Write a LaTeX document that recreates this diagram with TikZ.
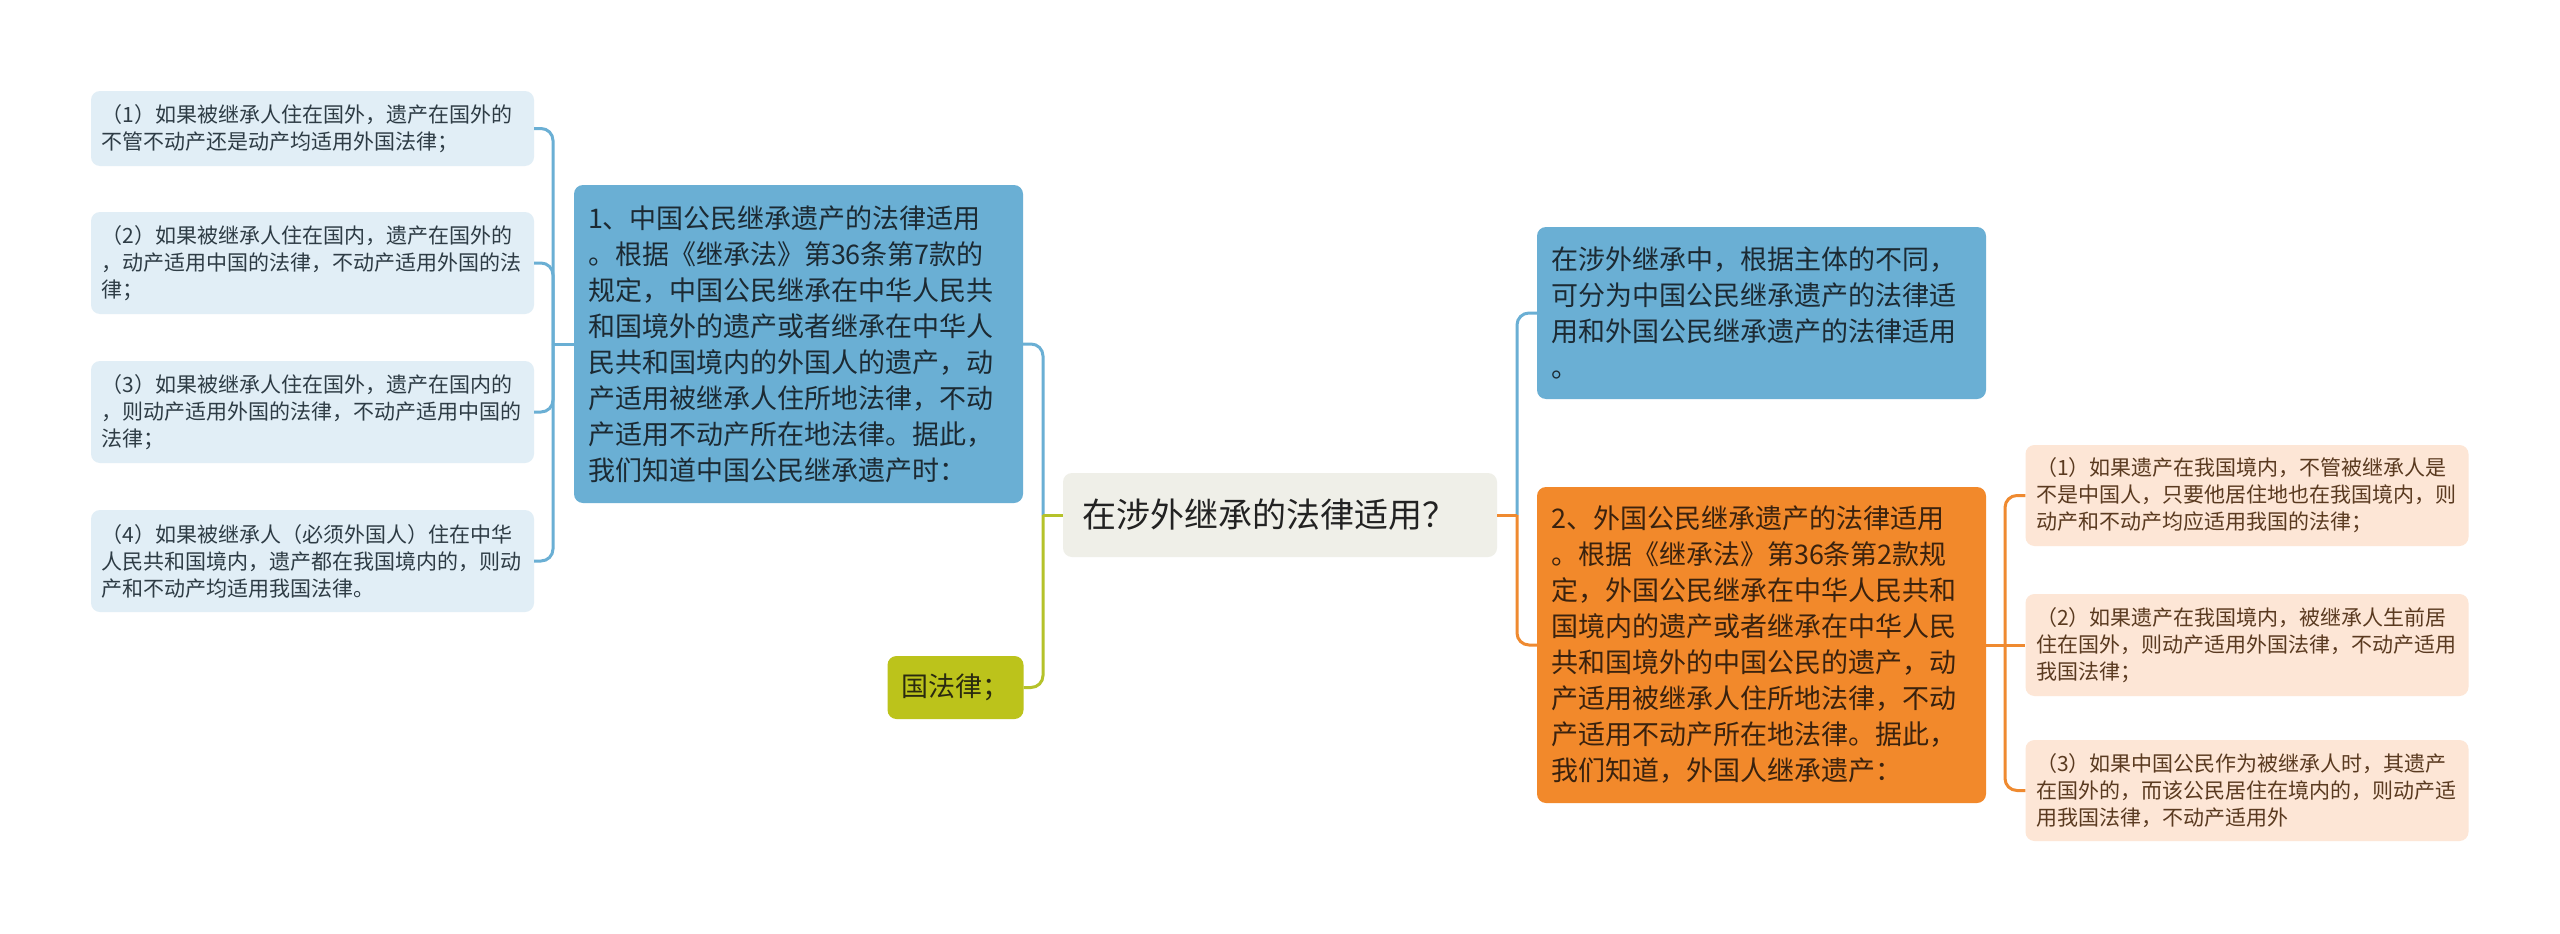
\documentclass[tikz,border=0pt]{standalone}
\usepackage{fontspec}
\newfontfamily\cjk{Noto Sans CJK SC}
\definecolor{lbfill}{HTML}{E1EEF6}
\definecolor{lbtext}{HTML}{2E3C45}
\definecolor{bluefill}{HTML}{6AAFD4}
\definecolor{bluetext}{HTML}{1C2A33}
\definecolor{orangefill}{HTML}{F2892B}
\definecolor{orangetext}{HTML}{3A220E}
\definecolor{greenfill}{HTML}{BCC31B}
\definecolor{greentext}{HTML}{2A2A10}
\definecolor{centerfill}{HTML}{EFEFE8}
\definecolor{centertext}{HTML}{222222}
\definecolor{peachfill}{HTML}{FDE6D6}
\definecolor{peachtext}{HTML}{5A3A20}
\definecolor{bluecon}{HTML}{6AAFD4}
\definecolor{greencon}{HTML}{B5C22A}
\definecolor{orangecon}{HTML}{EF8A30}
\tikzset{
  box/.style={rounded corners=9pt, inner ysep=0pt, align=left, anchor=center},
  smallbox/.style={box, font=\cjk\fontsize{21}{27}\selectfont, text width=422pt, inner xsep=10.5pt, minimum width=443pt},
  leftleaf/.style={smallbox, fill=lbfill, text=lbtext},
  rightleaf/.style={smallbox, fill=peachfill, text=peachtext},
  bigbox/.style={box, font=\cjk\fontsize{27}{36}\selectfont, text width=421pt, inner xsep=14pt, minimum width=449pt},
  bluebox/.style={bigbox, fill=bluefill, text=bluetext},
  orangebox/.style={bigbox, fill=orangefill, text=orangetext},
  con/.style={line width=3pt, rounded corners=12pt},
}
\begin{document}
\begin{tikzpicture}[x=1pt,y=-1pt]
\useasboundingbox[fill=white] (0,0) rectangle (2560,934);

% left leaves
\node[leftleaf, minimum height=75pt] (L1) at (312.5,128.5) {（1）如果被继承人住在国外，遗产在国外的\\不管不动产还是动产均适用外国法律；};
\node[leftleaf, minimum height=102pt] (L2) at (312.5,263) {（2）如果被继承人住在国内，遗产在国外的\\，动产适用中国的法律，不动产适用外国的法\\律；};
\node[leftleaf, minimum height=102pt] (L3) at (312.5,412) {（3）如果被继承人住在国外，遗产在国内的\\，则动产适用外国的法律，不动产适用中国的\\法律；};
\node[leftleaf, minimum height=102pt] (L4) at (312.5,561) {（4）如果被继承人（必须外国人）住在中华\\人民共和国境内，遗产都在我国境内的，则动\\产和不动产均适用我国法律。};

% left main
\node[bluebox, minimum height=318pt] (A1) at (798.5,344) {1、中国公民继承遗产的法律适用\\。根据《继承法》第36条第7款的\\规定，中国公民继承在中华人民共\\和国境外的遗产或者继承在中华人\\民共和国境内的外国人的遗产，动\\产适用被继承人住所地法律，不动\\产适用不动产所在地法律。据此，\\我们知道中国公民继承遗产时：};

\node[box, fill=greenfill, text=greentext, font=\cjk\fontsize{27}{36}\selectfont, inner xsep=14pt, minimum width=135pt, minimum height=63pt] (G) at (955.5,687.5) {国法律；};

% center
\node[box, fill=centerfill, text=centertext, font=\cjk\fontsize{34}{40}\selectfont, text width=396pt, inner xsep=19pt, minimum width=434pt, minimum height=84pt] (C) at (1280,515) {在涉外继承的法律适用？};

% right main
\node[bluebox, minimum height=172pt] (R1) at (1761.5,313) {在涉外继承中，根据主体的不同，\\可分为中国公民继承遗产的法律适\\用和外国公民继承遗产的法律适用\\。};
\node[orangebox, minimum height=316pt] (R2) at (1761.5,645) {2、外国公民继承遗产的法律适用\\。根据《继承法》第36条第2款规\\定，外国公民继承在中华人民共和\\国境内的遗产或者继承在中华人民\\共和国境外的中国公民的遗产，动\\产适用被继承人住所地法律，不动\\产适用不动产所在地法律。据此，\\我们知道，外国人继承遗产：};

% right leaves
\node[rightleaf, minimum height=101pt, minimum width=442pt] (RR1) at (2247,495.5) {（1）如果遗产在我国境内，不管被继承人是\\不是中国人，只要他居住地也在我国境内，则\\动产和不动产均应适用我国的法律；};
\node[rightleaf, minimum height=102pt, minimum width=442pt] (RR2) at (2247,645) {（2）如果遗产在我国境内，被继承人生前居\\住在国外，则动产适用外国法律，不动产适用\\我国法律；};
\node[rightleaf, minimum height=101pt, minimum width=442pt] (RR3) at (2247,790.5) {（3）如果中国公民作为被继承人时，其遗产\\在国外的，而该公民居住在境内的，则动产适\\用我国法律，不动产适用外};

% junctions
\coordinate (jL) at (553,344);
\coordinate (jC) at (1043,515);
\coordinate (jR) at (1517,515);
\coordinate (jR2) at (2005,645);

% connectors left
\draw[con, bluecon] (A1.west) -- (jL);
\draw[con, bluecon] (jL) |- (L1.east);
\draw[con, bluecon] (jL) |- (L2.east);
\draw[con, bluecon] (jL) |- (L3.east);
\draw[con, bluecon] (jL) |- (L4.east);

% connectors center-left
\draw[con, bluecon] (jC) |- (A1.east);
\draw[con, greencon] (jC) |- (G.east);
\draw[con, greencon] (C.west) -- (jC);

% connectors center-right
\draw[con, bluecon] (jR) |- (R1.west);
\draw[con, orangecon] (jR) |- (R2.west);
\draw[con, orangecon] (C.east) -- (jR);

% connectors right
\draw[con, orangecon] (R2.east) -- (jR2);
\draw[con, orangecon] (jR2) |- (RR1.west);
\draw[con, orangecon] (jR2) -- (RR2.west);
\draw[con, orangecon] (jR2) |- (RR3.west);
\end{tikzpicture}
\end{document}
